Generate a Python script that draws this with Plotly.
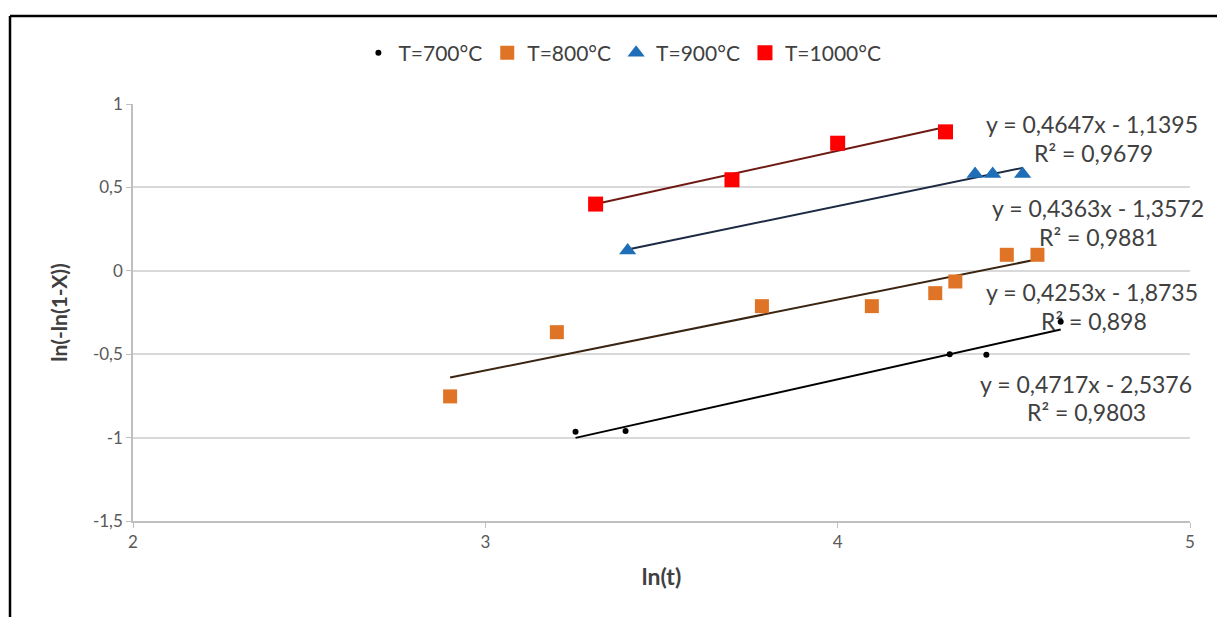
import plotly.graph_objects as go

# Series data: ln(t) vs ln(-ln(1-X))
series_names = ["T=700°C", "T=800°C", "T=900°C", "T=1000°C"]

x_700 = [3.256, 3.398, 4.318, 4.422, 4.633]
y_700 = [-0.965, -0.961, -0.500, -0.504, -0.306]

x_800 = [2.900, 3.203, 3.785, 4.097, 4.277, 4.334, 4.480, 4.567]
y_800 = [-0.753, -0.368, -0.212, -0.212, -0.134, -0.064, 0.096, 0.096]

x_900 = [3.404, 4.390, 4.440, 4.525]
y_900 = [0.122, 0.580, 0.580, 0.580]

x_1000 = [3.313, 3.700, 4.000, 4.306]
y_1000 = [0.400, 0.546, 0.765, 0.833]

# Linear trendline parameters (slope, intercept, R²)
slopes = [0.4717, 0.4253, 0.4363, 0.4647]
intercepts = [-2.5376, -1.8735, -1.3572, -1.1395]
r2_values = ["0,9803", "0,898", "0,9881", "0,9679"]
eq_labels = [
    "y = 0,4717x - 2,5376",
    "y = 0,4253x - 1,8735",
    "y = 0,4363x - 1,3572",
    "y = 0,4647x - 1,1395",
]

y_tick_vals = [1, 0.5, 0, -0.5, -1, -1.5]
y_tick_text = ["1", "0,5", "0", "-0,5", "-1", "-1,5"]
x_tick_vals = [2, 3, 4, 5]
x_tick_text = ["2", "3", "4", "5"]

xs = [x_700, x_800, x_900, x_1000]
ys = [y_700, y_800, y_900, y_1000]

marker_styles = [
    dict(symbol="circle", size=6, color="#000000"),
    dict(symbol="square", size=14, color="#E07426"),
    dict(symbol="triangle-up", size=15, color="#1F6FB8"),
    dict(symbol="square", size=15, color="#FF0000"),
]
trend_colors = ["#000000", "#3a2412", "#1c2a44", "#6e1a12"]

FONT = "Lato, 'Open Sans', sans-serif"
TEXT_COLOR = "#404040"

fig = go.Figure()

# trendlines first so markers sit on top
for i in range(4):
    x0, x1 = min(xs[i]), max(xs[i])
    fig.add_trace(go.Scatter(
        x=[x0, x1],
        y=[slopes[i] * x0 + intercepts[i], slopes[i] * x1 + intercepts[i]],
        mode="lines",
        line=dict(color=trend_colors[i], width=2),
        showlegend=False,
        hoverinfo="skip",
    ))

for i in range(4):
    fig.add_trace(go.Scatter(
        x=xs[i], y=ys[i], mode="markers", name=series_names[i],
        marker=marker_styles[i],
    ))

# equation / R² labels (data coords of label centres)
label_pos = [
    ((4.705, -0.679), (4.705, -0.846)),
    ((4.722, -0.127), (4.727, -0.301)),
    ((4.739, 0.377), (4.739, 0.203)),
    ((4.722, 0.880), (4.725, 0.706)),
]
for i in range(4):
    (ex, ey), (rx, ry) = label_pos[i]
    fig.add_annotation(x=ex, y=ey, text=eq_labels[i], showarrow=False,
                       xanchor="center", yanchor="middle",
                       font=dict(family=FONT, size=23, color=TEXT_COLOR))
    fig.add_annotation(x=rx, y=ry, text="R² = " + r2_values[i], showarrow=False,
                       xanchor="center", yanchor="middle",
                       font=dict(family=FONT, size=23, color=TEXT_COLOR))

# outer frame lines (left and top edges)
L, R, T, B = 133, 27, 104, 96
W, H = 1217, 617
pw, ph = W - L - R, H - T - B
fx = (10 - L) / pw
fy = (H - B - 16) / ph
fig.add_shape(type="line", xref="paper", yref="paper", x0=fx, x1=(W - L) / pw + 0.01,
              y0=fy, y1=fy, line=dict(color="#000000", width=2.5))
fig.add_shape(type="line", xref="paper", yref="paper", x0=fx, x1=fx,
              y0=fy, y1=-B / ph - 0.01, line=dict(color="#000000", width=2.5))

fig.update_layout(
    width=W, height=H,
    margin=dict(l=L, r=R, t=T, b=B),
    paper_bgcolor="white", plot_bgcolor="white",
    font=dict(family=FONT, color=TEXT_COLOR),
    legend=dict(orientation="h", x=0.463, xanchor="center", y=1.122, yanchor="middle",
                font=dict(family=FONT, size=21, color=TEXT_COLOR),
                itemwidth=30, tracegroupgap=0),
    xaxis=dict(range=[2, 5], tickvals=x_tick_vals, ticktext=x_tick_text,
               showgrid=False, zeroline=False, showline=True, linecolor="#bfbfbf",
               linewidth=1.5, ticks="outside", ticklen=5, tickcolor="#bfbfbf",
               tickfont=dict(family=FONT, size=17, color="#595959"),
               title=dict(text="ln(t)",
                          font=dict(family=FONT, size=23, color=TEXT_COLOR, weight=700),
                          standoff=18)),
    yaxis=dict(range=[-1.5, 1], tickvals=y_tick_vals, ticktext=y_tick_text,
               showgrid=True, gridcolor="#d9d9d9", gridwidth=1.5, zeroline=False,
               showline=True, linecolor="#bfbfbf", linewidth=1.5,
               ticks="outside", ticklen=5, tickcolor="#bfbfbf",
               tickfont=dict(family=FONT, size=17, color="#595959"),
               title=dict(text="ln(-ln(1-X))",
                          font=dict(family=FONT, size=21, color=TEXT_COLOR, weight=700),
                          standoff=20)),
)

fig.write_html("out.html")
